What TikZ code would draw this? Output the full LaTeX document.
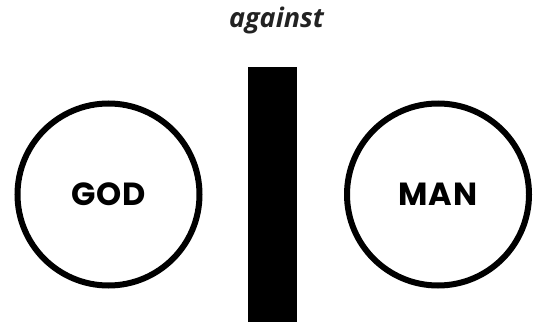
\documentclass[tikz,border=0pt]{standalone}
\usepackage{fontspec}
\setmainfont{Open Sans}
\newfontfamily\partyfont[LetterSpace=2]{Poppins}
\usepackage{tikz}

\definecolor{inkgray}{HTML}{222222}
\tikzset{
    party/.style={circle, draw, line width=6pt, minimum size=182pt, inner sep=0pt,
        font=\partyfont\fontsize{32}{38}\selectfont\bfseries},
}

\begin{document}
\begin{tikzpicture}[x=1pt,y=1pt]
        \useasboundingbox (0,0) rectangle (537,322);
        \node[party] (god) at (108.5,127.5) {GOD};
        \node[party] (man) at (438,127.5) {MAN};
        \fill (248,0) rectangle (297,255);
        \node[text=inkgray, anchor=base] (title) at (276.5,294) {\fontsize{27}{32}\selectfont\bfseries\itshape against};
    \end{tikzpicture}
\end{document}
